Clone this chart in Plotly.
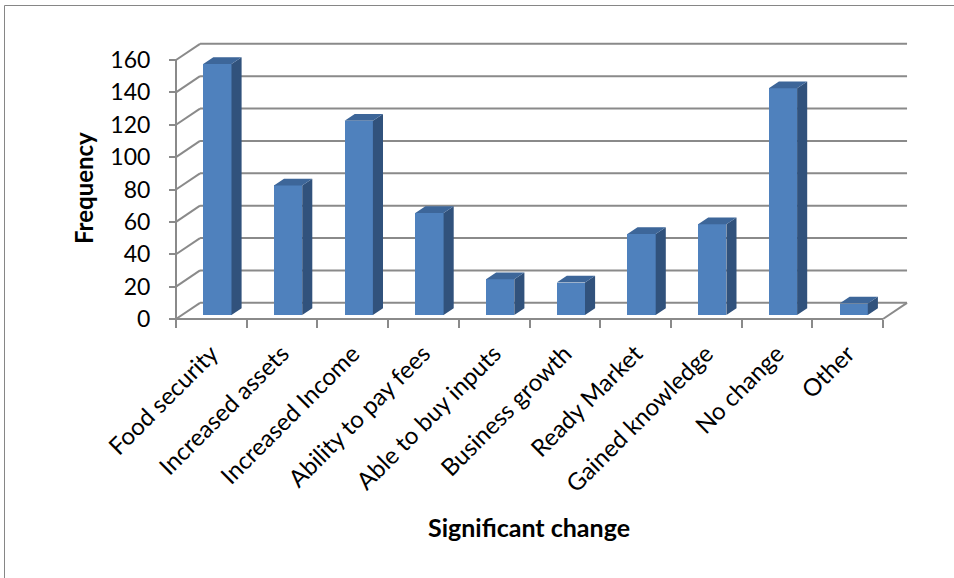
import plotly.graph_objects as go

# ---- data ----
categories = ["Food security", "Increased assets", "Increased Income", "Ability to pay fees",
              "Able to buy inputs", "Business growth", "Ready Market", "Gained knowledge",
              "No change", "Other"]
frequency = [155, 80, 120, 63, 22, 20, 50, 56, 140, 7]
y_ticks = [0, 20, 40, 60, 80, 100, 120, 140, 160]

# ---- pseudo-3D geometry (in axis units) ----
DX = 0.34        # depth shift along x (category units)
DY = 10.0        # depth shift along y (value units)
D0, D1 = 0.25, 0.67   # bar front / back depth fractions
BAR_W = 0.4
BAR_OFF = -BAR_W / 2 + D0 * DX

FRONT = "#4F81BD"
SIDE = "#31527C"
TOP = "#3D6699"
GRID = "#8A8A8A"

# pixel layout
W, H = 954, 578
ML, MR, MT, MB = 169, 40, 36, 252
PX_CAT = 70.7
PX_VAL = 1.61875
AXIS_X_PX = 176   # where the front-left edge sits
AXIS_Y_PX = 319   # where value 0 sits on the front edge
plot_w = W - ML - MR
plot_h = H - MT - MB
x_lo = -0.5 - (AXIS_X_PX - ML) / PX_CAT
x_hi = x_lo + plot_w / PX_CAT
y_lo = -((H - MB) - AXIS_Y_PX) / PX_VAL
y_hi = y_lo + plot_h / PX_VAL

n = len(categories)
x_first, x_last = -0.5, n - 0.5
v_max = y_ticks[-1]

fig = go.Figure()

# front faces of the columns
fig.add_trace(go.Bar(
    x=categories, y=frequency, base=[D0 * DY] * n,
    width=BAR_W, offset=BAR_OFF,
    marker=dict(color=FRONT, line=dict(width=0)),
    showlegend=False, hoverinfo="x+y",
))

# side and top faces
side_x, side_y, top_x, top_y = [], [], [], []
dd = D1 - D0
for i, v in enumerate(frequency):
    xl = i + BAR_OFF
    xr = xl + BAR_W
    b0 = D0 * DY
    t0 = b0 + v
    side_x += [xr, xr, xr + dd * DX, xr + dd * DX, xr, None]
    side_y += [b0, t0, t0 + dd * DY, b0 + dd * DY, b0, None]
    top_x += [xl, xr, xr + dd * DX, xl + dd * DX, xl, None]
    top_y += [t0, t0, t0 + dd * DY, t0 + dd * DY, t0, None]

fig.add_trace(go.Scatter(x=side_x, y=side_y, xaxis="x2", yaxis="y", mode="lines",
                         fill="toself", fillcolor=SIDE, line=dict(width=0, color=SIDE),
                         showlegend=False, hoverinfo="skip"))
fig.add_trace(go.Scatter(x=top_x, y=top_y, xaxis="x2", yaxis="y", mode="lines",
                         fill="toself", fillcolor=TOP, line=dict(width=0, color=TOP),
                         showlegend=False, hoverinfo="skip"))

# walls and floor
shapes = []
line_style = dict(color=GRID, width=2)
for k in y_ticks:
    # back wall gridline
    shapes.append(dict(type="line", xref="x2", yref="y", layer="below",
                       x0=x_first + DX, x1=x_last + DX, y0=k + DY, y1=k + DY, line=line_style))
    # side wall diagonal
    shapes.append(dict(type="line", xref="x2", yref="y", layer="below",
                       x0=x_first, x1=x_first + DX, y0=k, y1=k + DY, line=line_style))
# floor front edge and right edge
shapes.append(dict(type="line", xref="x2", yref="y", layer="below",
                   x0=x_first, x1=x_last, y0=0, y1=0, line=line_style))
shapes.append(dict(type="line", xref="x2", yref="y", layer="below",
                   x0=x_last, x1=x_last + DX, y0=0, y1=DY, line=line_style))
# vertical front axis
shapes.append(dict(type="line", xref="x2", yref="y", layer="below",
                   x0=x_first, x1=x_first, y0=0, y1=v_max, line=line_style))


def px_to_paper_x(px):
    return (px - ML) / plot_w


def px_to_paper_y(py):
    return ((H - MB) - py) / plot_h


# chart frame
shapes.append(dict(type="rect", xref="paper", yref="paper",
                   x0=px_to_paper_x(4.5), x1=px_to_paper_x(970),
                   y0=px_to_paper_y(600), y1=px_to_paper_y(5.5),
                   line=dict(color="#868686", width=1), fillcolor="rgba(0,0,0,0)"))

FONT = "Lato"

fig.update_layout(
    width=W, height=H,
    margin=dict(l=ML, r=MR, t=MT, b=MB, pad=0),
    paper_bgcolor="white", plot_bgcolor="rgba(0,0,0,0)",
    font=dict(family=FONT, color="black"),
    shapes=shapes,
    xaxis=dict(type="category", categoryorder="array", categoryarray=categories,
               range=[x_lo, x_hi], tickson="boundaries", ticks="outside",
               ticklen=8, tickwidth=2, tickcolor=GRID, tickangle=-45,
               tickfont=dict(size=24, family=FONT), ticklabelstandoff=15,
               showgrid=False, showline=False,
               zeroline=False, anchor="free", position=px_to_paper_y(AXIS_Y_PX),
               fixedrange=True),
    xaxis2=dict(type="linear", overlaying="x", range=[x_lo, x_hi], visible=False,
                anchor="y", fixedrange=True),
    yaxis=dict(range=[y_lo, y_hi], tickvals=y_ticks, ticks="outside", ticklen=7,
               tickwidth=2, tickcolor=GRID, tickfont=dict(size=23, family=FONT),
               ticklabelstandoff=14,
               showgrid=False, showline=False, zeroline=False, anchor="free",
               position=px_to_paper_x(AXIS_X_PX), fixedrange=True),
    annotations=[
        dict(text="<b>Frequency</b>", xref="paper", yref="paper",
             x=px_to_paper_x(84), y=px_to_paper_y(188), textangle=-90,
             showarrow=False, font=dict(size=24, family=FONT, color="black"),
             xanchor="center", yanchor="middle"),
        dict(text="<b>Significant change</b>", xref="paper", yref="paper",
             x=px_to_paper_x(529), y=px_to_paper_y(527),
             showarrow=False, font=dict(size=25, family=FONT, color="black"),
             xanchor="center", yanchor="middle"),
    ],
    bargap=0,
)

fig.write_html("out.html")
